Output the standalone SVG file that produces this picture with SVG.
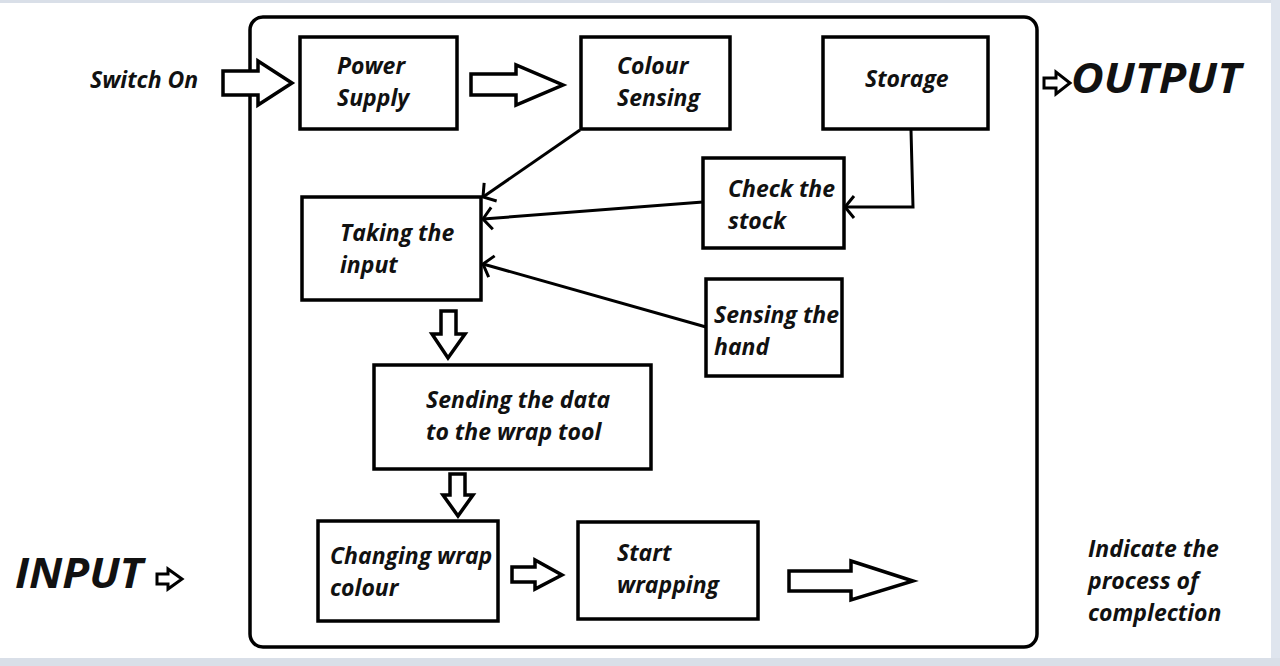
<svg xmlns="http://www.w3.org/2000/svg" width="1280" height="666" viewBox="0 0 1280 666">
<style>
.box{fill:#fff;stroke:#000;stroke-width:3.5}
.t{font-family:"Open Sans",Lato,"Liberation Sans",sans-serif;font-weight:bold;font-style:italic;font-size:23px;fill:#111}
.big{font-size:42px}
.blk{fill:#fff;stroke:#000;stroke-width:3.5;stroke-linejoin:miter}
.sm{fill:#fff;stroke:#000;stroke-width:3}
.ln{fill:none;stroke:#000;stroke-width:3}
</style>
<defs>
<marker id="open" markerUnits="userSpaceOnUse" markerWidth="30" markerHeight="30" viewBox="-20 -15 30 30" refX="0" refY="0" orient="auto">
<path d="M-9,-11 L0,0 L-9,11" fill="none" stroke="#000" stroke-width="3"/>
</marker>
</defs>
<rect width="1280" height="666" fill="#fff"/>
<rect x="0" y="0" width="1280" height="3" fill="#d9dfe8"/>
<rect x="1271" y="0" width="9" height="666" fill="#dfe5ee"/>
<rect x="0" y="658" width="1280" height="8" fill="#d9dfe8"/>

<g id="frame"><rect x="250" y="17" width="787" height="630" rx="13" fill="none" stroke="#000" stroke-width="3.5"/></g>

<g id="switch-on"><text class="t" x="90" y="88">Switch On</text></g>
<g id="output-label"><path class="sm" d="M1044,78 H1056 V72 L1070,83 L1056,94 V88 H1044 Z"/><text class="t big" x="1071" y="93" textLength="170" lengthAdjust="spacingAndGlyphs">OUTPUT</text></g>
<g id="input-label"><text class="t big" x="15" y="588" textLength="128" lengthAdjust="spacingAndGlyphs">INPUT</text><path class="sm" d="M157,574 H168 V569 L182,579 L168,589 V584 H157 Z"/></g>

<g id="power-supply"><rect class="box" x="300" y="37" width="157" height="92"/><text class="t" x="337" y="74">Power</text><text class="t" x="337" y="106">Supply</text></g>
<g id="colour-sensing"><rect class="box" x="581" y="37" width="149" height="92"/><text class="t" x="617" y="74">Colour</text><text class="t" x="617" y="106">Sensing</text></g>
<g id="storage"><rect class="box" x="823" y="37" width="165" height="92"/><text class="t" x="865" y="87">Storage</text></g>
<g id="check-stock"><rect class="box" x="703" y="158" width="141" height="90"/><text class="t" x="728" y="197">Check the</text><text class="t" x="728" y="229">stock</text></g>
<g id="taking-input"><rect class="box" x="302" y="197" width="179" height="103"/><text class="t" x="340" y="241">Taking the</text><text class="t" x="340" y="273">input</text></g>
<g id="sensing-hand"><rect class="box" x="706" y="279" width="136" height="97"/><text class="t" x="714" y="323">Sensing the</text><text class="t" x="714" y="355">hand</text></g>
<g id="sending-data"><rect class="box" x="374" y="365" width="277" height="104"/><text class="t" x="426" y="408">Sending the data</text><text class="t" x="426" y="440">to the wrap tool</text></g>
<g id="changing-colour"><rect class="box" x="318" y="521" width="180" height="100"/><text class="t" x="330" y="564">Changing wrap</text><text class="t" x="330" y="596">colour</text></g>
<g id="start-wrapping"><rect class="box" x="578" y="522" width="180" height="97"/><text class="t" x="617" y="561">Start</text><text class="t" x="617" y="593">wrapping</text></g>
<g id="indicate"><text class="t" x="1088" y="557">Indicate the</text><text class="t" x="1088" y="589">process of</text><text class="t" x="1088" y="621">complection</text></g>

<g id="connectors">
<path class="blk" d="M223,71 H258 V61 L292,83 L258,105 V95 H223 Z"/>
<path class="blk" d="M471,74 H516 V65 L563,85 L516,105 V95 H471 Z"/>
<path class="blk" d="M441,311 H456 V334 H465 L448,358 L432,334 H441 Z"/>
<path class="blk" d="M450,474 H465 V495 H473 L458,516 L443,495 H450 Z"/>
<path class="blk" d="M512,567 H535 V560 L562,575 L535,589 V582 H512 Z"/>
<path class="blk" d="M789,571 H851 V561 L913,581 L851,600 V591 H789 Z"/>
<path class="ln" d="M580,130 L483,197" marker-end="url(#open)"/>
<path class="ln" d="M703,202 L483,219" marker-end="url(#open)"/>
<path class="ln" d="M706,327 L483,264" marker-end="url(#open)"/>
<path class="ln" d="M911,130 L913,207 L845,207" marker-end="url(#open)"/>
</g>
</svg>
